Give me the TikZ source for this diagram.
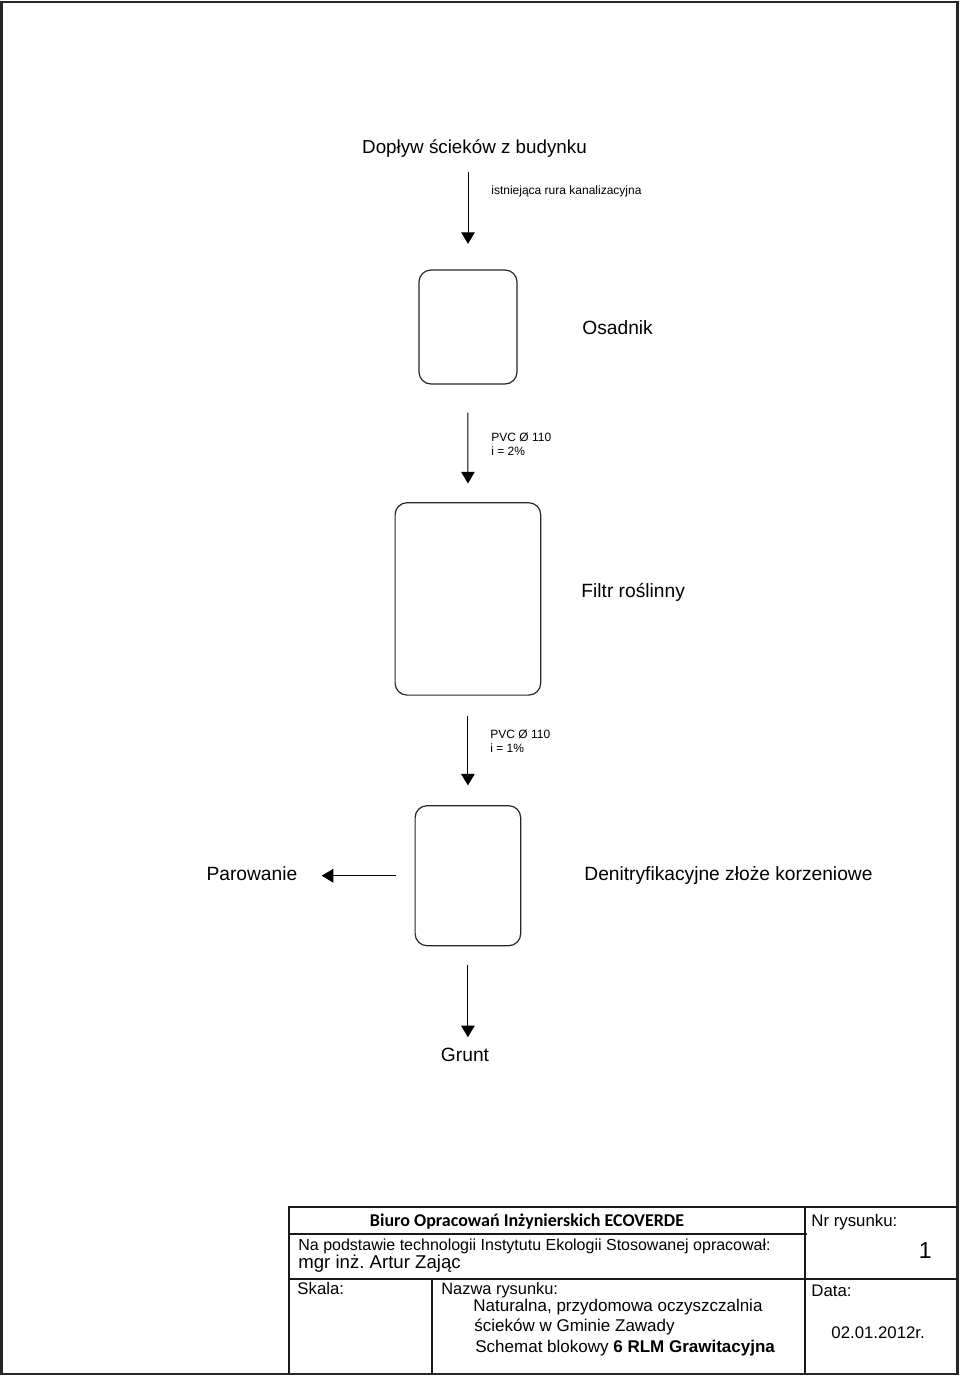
\documentclass[tikz,border=0pt]{standalone}
\usepackage{fontspec}
\setmainfont{Liberation Sans}
\newfontfamily\calibfont{Carlito}
\usetikzlibrary{positioning,arrows.meta}
\newcommand{\fs}[1]{\fontsize{#1}{#1}\selectfont}
\frenchspacing

\begin{document}
\begin{tikzpicture}[x=0.5pt, y=-0.5pt, >={Triangle[length=5.8pt,width=6.8pt]},
  box/.style={draw=black!85, line width=0.6pt, rounded corners=6pt, inner sep=0pt},
  flow/.style={->, line width=0.5pt},
  lbl/.style={font=\fs{9.6}, anchor=base west, inner sep=0pt},
  pipe/.style={font=\fontsize{6}{7}\selectfont, anchor=base west, inner sep=0pt, align=left},
  tb/.style={font=\fs{8.4}, anchor=base west, inner sep=0pt},
  rule/.style={line width=0.75pt, black!90}]
\useasboundingbox (0,0) rectangle (960,1376);
\draw[line width=1.1pt, black!85] (1.5,2) rectangle (957.5,1374);

\node[lbl, font=\fs{9.4}, anchor=base] (inflow) at (474.5,153) {Dopływ ścieków z budynku};
\node[box, minimum width=49pt, minimum height=57pt] (osad) at (468,327) {};
\node[box, minimum width=72.8pt, minimum height=96.2pt] (filtr) at (467.9,598.9) {};
\node[box, minimum width=52.8pt, minimum height=70pt] (zloze) at (467.9,875.7) {};
\node[lbl] (osadL) at (582,334) {Osadnik};
\node[lbl] (filtrL) at (581,597) {Filtr roślinny};
\node[lbl] (zlozeL) at (584,880) {Denitryfikacyjne złoże korzeniowe};
\node[lbl, anchor=base east] (parow) at (297.7,880.7) {Parowanie};
\node[lbl, anchor=base] (grunt) at (465,1061) {Grunt};

\node[pipe] (rura1) at (491,194) {istniejąca rura kanalizacyjna};
\node[pipe] (rura2) at (491,455) {PVC Ø 110\\i = 2\%};
\node[pipe] (rura3) at (490,752) {PVC Ø 110\\i = 1\%};

\draw[flow, shorten <=7.5pt, shorten >=12.75pt] (inflow.south -| osad.north) -- (osad.north);
\draw[flow, shorten <=14pt, shorten >=9.35pt] (osad.south) -- (filtr.north);
\draw[flow, shorten <=10pt, shorten >=9.85pt] (filtr.south) -- (zloze.north);
\draw[flow, shorten <=9.15pt, shorten >=5pt] (zloze.south) -- (zloze.south |- grunt.north);
\draw[flow, shorten <=9.5pt, shorten >=12pt] (zloze.west) -- (zloze.west -| parow.east);

\draw[rule] (289,1374) -- (289,1207) -- (957,1207);
\draw[rule] (289,1234) -- (807,1234);
\draw[rule] (289,1279) -- (957,1279);
\draw[rule] (805,1207) -- (805,1374);
\draw[rule] (432,1279) -- (432,1374);

\node[tb, font=\calibfont\bfseries\fs{9}, anchor=base] (biuro) at (527,1226) {Biuro Opracowań Inżynierskich ECOVERDE};
\node[tb, font=\fs{8}] (podst) at (298,1250) {Na podstawie technologii Instytutu Ekologii Stosowanej opracował:};
\node[tb, font=\fs{9.3}] (autor) at (298,1268) {mgr inż. Artur Zając};
\node[tb] (skala) at (297,1294) {Skala:};
\node[tb, font=\fs{8.2}] (nazwa) at (441,1294) {Nazwa rysunku:};
\node[tb, font=\fs{8.5}] (tyt1) at (473,1311) {Naturalna, przydomowa oczyszczalnia};
\node[tb, font=\fs{8.5}] (tyt2) at (474,1331) {ścieków w Gminie Zawady};
\node[tb, font=\fs{8.5}] (tyt3) at (475,1352) {Schemat blokowy \textbf{6 RLM Grawitacyjna}};
\node[tb] (nr) at (811,1226) {Nr rysunku:};
\node[tb, font=\fs{11.5}, anchor=base east] (nrVal) at (932,1258) {1};
\node[tb] (data) at (811,1296) {Data:};
\node[tb] (dataVal) at (831,1338) {02.01.2012r.};
\end{tikzpicture}
\end{document}
